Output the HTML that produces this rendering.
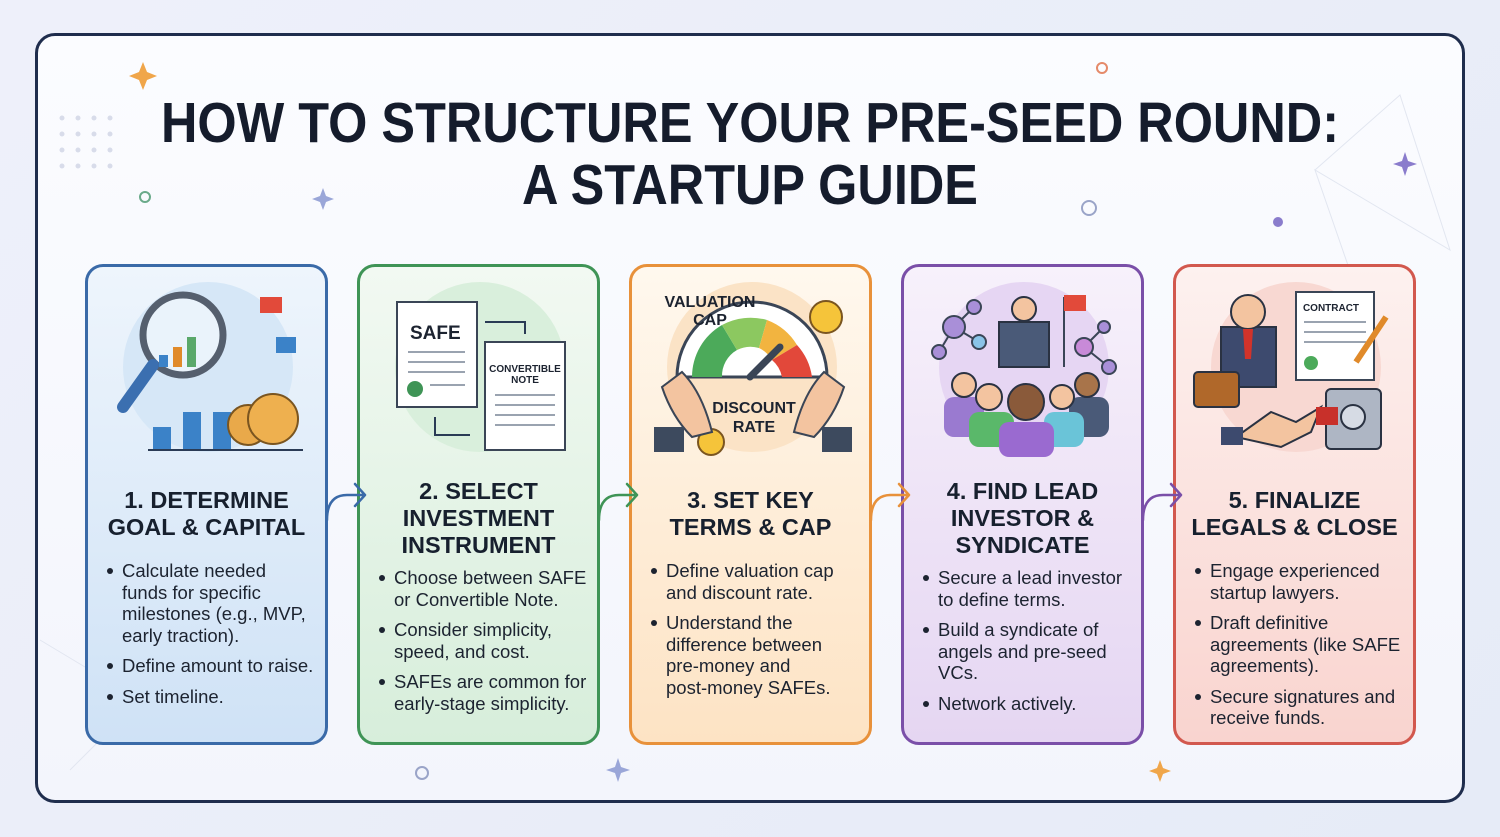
<!DOCTYPE html>
<html><head><meta charset="utf-8"><style>
*{margin:0;padding:0;box-sizing:border-box}
body{width:1500px;height:837px;overflow:hidden;background:linear-gradient(135deg,#eef0fa,#e6ebf7);font-family:"Liberation Sans",sans-serif;position:relative}
.frame{position:absolute;left:35px;top:33px;width:1430px;height:770px;border:3px solid #1f2d4d;border-radius:20px;background:linear-gradient(180deg,#fbfcff,#f3f5fc)}
.title{position:absolute;left:0;width:1500px;text-align:center;font-weight:bold;font-size:57px;color:#151c2c;line-height:62px;transform:scaleX(0.885);transform-origin:750px 0}
.card{position:absolute;top:264px;width:243px;height:481px;border:3px solid;border-radius:18px}
.h{position:absolute;left:0;width:100%;text-align:center;font-weight:bold;font-size:23.5px;line-height:27px;color:#17202e}
ul{position:absolute;left:34px;right:10px;list-style:none;font-size:18.5px;line-height:21.5px;color:#1c2330}
li{position:relative;margin-bottom:9px}
li:before{content:"";position:absolute;left:-15px;top:8px;width:6px;height:6px;border-radius:50%;background:#1c2330}
.ic{position:absolute;left:0;top:0}
</style></head><body>
<div class="frame"></div>
<svg style="position:absolute;left:0;top:0" width="1500" height="837">
<g fill="#f0a64a"><path d="M143 62 l4 10 10 4 -10 4 -4 10 -4 -10 -10 -4 10 -4z"/><path d="M1160 760 l3 8 8 3 -8 3 -3 8 -3 -8 -8 -3 8 -3z"/></g>
<g fill="#9aa6d8"><path d="M323 188 l3 8 8 3 -8 3 -3 8 -3 -8 -8 -3 8 -3z"/><path d="M1405 152 l3 9 9 3 -9 3 -3 9 -3 -9 -9 -3 9 -3z" fill="#8a7ccc"/><path d="M618 758 l3 9 9 3 -9 3 -3 9 -3 -9 -9 -3 9 -3z"/></g>
<g fill="none" stroke-width="2"><circle cx="1102" cy="68" r="5" stroke="#e58a6a"/><circle cx="145" cy="197" r="5" stroke="#6aaa8a"/><circle cx="1089" cy="208" r="7" stroke="#9aa4c8"/><circle cx="422" cy="773" r="6" stroke="#9aa4c8"/></g>
<circle cx="1278" cy="222" r="5" fill="#8a7ccc"/>
<g fill="#d8dcea"><circle cx="62" cy="118" r="2.5"/><circle cx="78" cy="118" r="2.5"/><circle cx="94" cy="118" r="2.5"/><circle cx="110" cy="118" r="2.5"/><circle cx="62" cy="134" r="2.5"/><circle cx="78" cy="134" r="2.5"/><circle cx="94" cy="134" r="2.5"/><circle cx="110" cy="134" r="2.5"/><circle cx="62" cy="150" r="2.5"/><circle cx="78" cy="150" r="2.5"/><circle cx="94" cy="150" r="2.5"/><circle cx="110" cy="150" r="2.5"/><circle cx="62" cy="166" r="2.5"/><circle cx="78" cy="166" r="2.5"/><circle cx="94" cy="166" r="2.5"/><circle cx="110" cy="166" r="2.5"/></g>
<g stroke="#e2e6f0" fill="none"><path d="M1315 170 L1400 95 L1450 250 L1315 170 L1360 300"/><path d="M70 770 L140 700 L40 640"/></g>
</svg>
<div class="title" style="top:92px">HOW TO STRUCTURE YOUR PRE-SEED ROUND:</div>
<div class="title" style="top:154px">A STARTUP GUIDE</div>

<!-- card 1 -->
<div class="card" style="left:85px;border-color:#3a6aa8;background:linear-gradient(180deg,#eef5fc,#cfe2f6)">
<svg class="ic" width="243" height="200"><circle cx="120" cy="100" r="85" fill="#d6e7f7"/>
<rect x="65" y="160" width="18" height="22" fill="#3b82c8"/><rect x="95" y="145" width="18" height="37" fill="#3b82c8"/><rect x="125" y="145" width="18" height="37" fill="#3b82c8"/>
<line x1="60" y1="183" x2="215" y2="183" stroke="#2a3b55" stroke-width="2"/>
<circle cx="95" cy="68" r="40" fill="#eaf3fb" stroke="#555f6e" stroke-width="7"/>
<rect x="85" y="80" width="9" height="20" fill="#e08a2a"/><rect x="99" y="70" width="9" height="30" fill="#5aa86a"/><rect x="71" y="88" width="9" height="12" fill="#3b82c8"/>
<line x1="65" y1="98" x2="35" y2="140" stroke="#3b6fb0" stroke-width="12" stroke-linecap="round"/>
<circle cx="160" cy="158" r="20" fill="#e9a94a" stroke="#7a5520" stroke-width="2"/><circle cx="185" cy="152" r="25" fill="#eeb04f" stroke="#7a5520" stroke-width="2"/>
<rect x="172" y="30" width="22" height="16" fill="#e24a3a"/><rect x="188" y="70" width="20" height="16" fill="#3b82c8"/></svg>
<div class="h" style="top:220px">1. DETERMINE<br>GOAL &amp; CAPITAL</div>
<ul style="top:293px"><li>Calculate needed funds for specific milestones (e.g., MVP, early traction).</li><li>Define amount to raise.</li><li>Set timeline.</li></ul>
</div>

<!-- card 2 -->
<div class="card" style="left:357px;border-color:#3f9456;background:linear-gradient(180deg,#f2f9f2,#d7eedb)">
<svg class="ic" width="243" height="200"><circle cx="120" cy="100" r="85" fill="#d9efdc"/>
<rect x="37" y="35" width="80" height="105" fill="#fff" stroke="#3a4556" stroke-width="2"/>
<text x="50" y="72" font-family="Liberation Sans" font-weight="bold" font-size="19" fill="#1c2330">SAFE</text>
<g stroke="#9aa3b0" stroke-width="2"><line x1="48" y1="85" x2="105" y2="85"/><line x1="48" y1="95" x2="105" y2="95"/><line x1="48" y1="105" x2="105" y2="105"/><line x1="70" y1="118" x2="105" y2="118"/></g>
<circle cx="55" cy="122" r="8" fill="#3f9456"/>
<rect x="125" y="75" width="80" height="108" fill="#fff" stroke="#3a4556" stroke-width="2"/>
<text x="165" y="105" text-anchor="middle" font-family="Liberation Sans" font-weight="bold" font-size="10" fill="#1c2330">CONVERTIBLE</text>
<text x="165" y="116" text-anchor="middle" font-family="Liberation Sans" font-weight="bold" font-size="10" fill="#1c2330">NOTE</text>
<g stroke="#9aa3b0" stroke-width="2"><line x1="135" y1="128" x2="195" y2="128"/><line x1="135" y1="138" x2="195" y2="138"/><line x1="135" y1="148" x2="195" y2="148"/><line x1="135" y1="158" x2="195" y2="158"/></g>
<path d="M125 55 h40 v12 M75 150 v18 h35" fill="none" stroke="#2a3b55" stroke-width="2"/></svg>
<div class="h" style="top:211px">2. SELECT<br>INVESTMENT<br>INSTRUMENT</div>
<ul style="top:300px"><li>Choose between SAFE or Convertible Note.</li><li>Consider simplicity, speed, and cost.</li><li>SAFEs are common for early-stage simplicity.</li></ul>
</div>

<!-- card 3 -->
<div class="card" style="left:629px;border-color:#e8913a;background:linear-gradient(180deg,#fff8ee,#fde3c4)">
<svg class="ic" width="243" height="200"><circle cx="120" cy="100" r="85" fill="#fbe3c6"/>
<path d="M45 110 a75 75 0 0 1 150 0 z" fill="#fff" stroke="#3a4556" stroke-width="3"/>
<path d="M60 110 a60 60 0 0 1 30 -52 l15 25 a30 30 0 0 0 -15 27z" fill="#4caa5a"/>
<path d="M90 58 a60 60 0 0 1 45 -5 l-8 28 a30 30 0 0 0 -22 2z" fill="#8cc860"/>
<path d="M135 53 a60 60 0 0 1 30 25 l-25 15 a30 30 0 0 0 -13 -12z" fill="#f2b440"/>
<path d="M165 78 a60 60 0 0 1 15 32 l-30 0 a30 30 0 0 0 -10 -17z" fill="#e2483a"/>
<line x1="118" y1="110" x2="148" y2="80" stroke="#3a4556" stroke-width="7" stroke-linecap="round"/>
<text x="78" y="40" font-family="Liberation Sans" font-weight="bold" font-size="16" fill="#1c2330" text-anchor="middle">VALUATION</text>
<text x="78" y="58" font-family="Liberation Sans" font-weight="bold" font-size="16" fill="#1c2330" text-anchor="middle">CAP</text>
<text x="122" y="146" font-family="Liberation Sans" font-weight="bold" font-size="16" fill="#1c2330" text-anchor="middle">DISCOUNT</text>
<text x="122" y="165" font-family="Liberation Sans" font-weight="bold" font-size="16" fill="#1c2330" text-anchor="middle">RATE</text>
<circle cx="194" cy="50" r="16" fill="#f5c43a" stroke="#7a5520" stroke-width="2"/><circle cx="79" cy="175" r="13" fill="#f5c43a" stroke="#7a5520" stroke-width="2"/>
<path d="M30 120 q10 30 30 50 l20 -5 q-10 -40 -30 -60z" fill="#f3c4a0" stroke="#3a4556" stroke-width="2"/>
<path d="M212 120 q-10 30 -30 50 l-20 -5 q10 -40 30 -60z" fill="#f3c4a0" stroke="#3a4556" stroke-width="2"/>
<rect x="22" y="160" width="30" height="25" fill="#3d4a5e"/><rect x="190" y="160" width="30" height="25" fill="#3d4a5e"/></svg>
<div class="h" style="top:220px">3. SET KEY<br>TERMS &amp; CAP</div>
<ul style="top:293px"><li>Define valuation cap and discount rate.</li><li>Understand the difference between pre-money and<br>post-money SAFEs.</li></ul>
</div>

<!-- card 4 -->
<div class="card" style="left:901px;border-color:#7a4fa8;background:linear-gradient(180deg,#f7f1fb,#e5d6f2)">
<svg class="ic" width="243" height="200"><circle cx="120" cy="100" r="85" fill="#e6d6f3"/>
<g stroke="#3a4556" stroke-width="2"><line x1="50" y1="60" x2="70" y2="40"/><line x1="50" y1="60" x2="35" y2="85"/><line x1="50" y1="60" x2="75" y2="75"/><line x1="180" y1="80" x2="200" y2="60"/><line x1="180" y1="80" x2="205" y2="100"/></g>
<g fill="#a98fd8" stroke="#3a4556" stroke-width="2"><circle cx="50" cy="60" r="11"/><circle cx="70" cy="40" r="7"/><circle cx="35" cy="85" r="7"/><circle cx="75" cy="75" r="7" fill="#8ac4e8"/><circle cx="180" cy="80" r="9" fill="#c88ad8"/><circle cx="200" cy="60" r="6"/><circle cx="205" cy="100" r="7"/></g>
<rect x="95" y="55" width="50" height="45" fill="#4a5a78" stroke="#2a3242" stroke-width="2"/><circle cx="120" cy="42" r="12" fill="#f3c4a0" stroke="#2a3242" stroke-width="2"/>
<line x1="160" y1="30" x2="160" y2="100" stroke="#3a4556" stroke-width="2"/><rect x="160" y="28" width="22" height="16" fill="#e24a3a"/>
<rect x="40" y="130" width="40" height="40" rx="10" fill="#9a7ad0"/><circle cx="60" cy="118" r="12" fill="#f3c4a0" stroke="#2a3242" stroke-width="2"/>
<rect x="165" y="130" width="40" height="40" rx="10" fill="#4a5a78"/><circle cx="183" cy="118" r="12" fill="#a8744a" stroke="#2a3242" stroke-width="2"/>
<rect x="65" y="145" width="45" height="35" rx="10" fill="#5ab86a"/><circle cx="85" cy="130" r="13" fill="#f3c4a0" stroke="#2a3242" stroke-width="2"/>
<rect x="140" y="145" width="40" height="35" rx="10" fill="#6ac4d8"/><circle cx="158" cy="130" r="12" fill="#f3c4a0" stroke="#2a3242" stroke-width="2"/>
<rect x="95" y="155" width="55" height="35" rx="10" fill="#9a6ad0"/><circle cx="122" cy="135" r="18" fill="#8a5a3a" stroke="#2a3242" stroke-width="2"/></svg>
<div class="h" style="top:211px">4. FIND LEAD<br>INVESTOR &amp;<br>SYNDICATE</div>
<ul style="top:300px"><li>Secure a lead investor to define terms.</li><li>Build a syndicate of angels and pre-seed VCs.</li><li>Network actively.</li></ul>
</div>

<!-- card 5 -->
<div class="card" style="left:1173px;border-color:#d2584e;background:linear-gradient(180deg,#fdf1ef,#f9d4cf)">
<svg class="ic" width="243" height="200"><circle cx="120" cy="100" r="85" fill="#f8d8d2"/>
<rect x="120" y="25" width="78" height="88" fill="#fff" stroke="#3a4556" stroke-width="2"/>
<text x="155" y="44" text-anchor="middle" font-family="Liberation Sans" font-weight="bold" font-size="10" fill="#1c2330">CONTRACT</text>
<g stroke="#9aa3b0" stroke-width="2"><line x1="128" y1="55" x2="190" y2="55"/><line x1="128" y1="65" x2="190" y2="65"/><line x1="128" y1="75" x2="190" y2="75"/></g>
<circle cx="135" cy="96" r="7" fill="#4caa5a"/>
<line x1="180" y1="95" x2="210" y2="50" stroke="#e08a2a" stroke-width="6"/>
<rect x="45" y="60" width="55" height="60" fill="#3d4a6e" stroke="#2a3242" stroke-width="2"/><circle cx="72" cy="45" r="17" fill="#f3c4a0" stroke="#2a3242" stroke-width="2"/><path d="M67 62 h10 l-2 30 h-6z" fill="#d2332a"/>
<rect x="18" y="105" width="45" height="35" rx="4" fill="#b0682a" stroke="#2a3242" stroke-width="2"/>
<rect x="150" y="122" width="55" height="60" rx="5" fill="#aeb6c4" stroke="#2a3242" stroke-width="2"/><circle cx="177" cy="150" r="12" fill="#d6dbe4" stroke="#2a3242" stroke-width="2"/>
<path d="M60 170 l35 -25 l25 10 l25 -15 l-10 25 l-30 15z" fill="#f3c4a0" stroke="#2a3242" stroke-width="2"/>
<rect x="45" y="160" width="22" height="18" fill="#3d4a6e"/><rect x="140" y="140" width="22" height="18" fill="#c8302a"/></svg>
<div class="h" style="top:220px">5. FINALIZE<br>LEGALS &amp; CLOSE</div>
<ul style="top:293px"><li>Engage experienced startup lawyers.</li><li>Draft definitive agreements (like SAFE agreements).</li><li>Secure signatures and receive funds.</li></ul>
</div>

<!-- connectors -->
<svg style="position:absolute;left:0;top:0" width="1500" height="837">
<g fill="none" stroke-width="2.5" stroke-linecap="round" stroke-linejoin="round">
<path d="M327 520 q0 -25 20 -25 h15 M355 484 l10 11 -10 11" stroke="#3a6aa8"/>
<path d="M599 520 q0 -25 20 -25 h15 M627 484 l10 11 -10 11" stroke="#3f9456"/>
<path d="M871 520 q0 -25 20 -25 h15 M899 484 l10 11 -10 11" stroke="#e8913a"/>
<path d="M1143 520 q0 -25 20 -25 h15 M1171 484 l10 11 -10 11" stroke="#7a4fa8"/>
</g></svg>
</body></html>
